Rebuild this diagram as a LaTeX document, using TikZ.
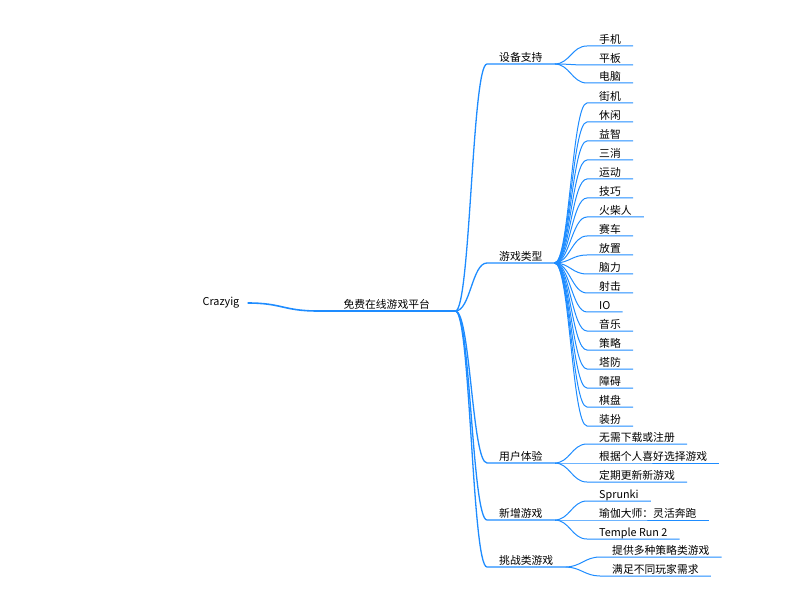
\documentclass[tikz,border=0pt]{standalone}
\usepackage{fontspec}
\setmainfont{Noto Sans CJK SC}
\usetikzlibrary{positioning}
\definecolor{mapblue}{RGB}{30,140,255}

\begin{document}
\begin{tikzpicture}[x=1pt, y=-1pt, every node/.style={font=\fontsize{10.8}{12}\selectfont},
  topic/.style={anchor=south west, inner xsep=12pt, inner ysep=2pt, text height=8pt, text depth=0pt},
  link/.style={draw=mapblue, line width=#1, to path={.. controls ([xshift=15pt]\tikztostart) and ([xshift=-15pt]\tikztotarget) .. (\tikztotarget)}},
  link/.default=1pt]
\useasboundingbox (0,0) rectangle (797,601);
% root and main topic
\node[inner xsep=8pt] (root) at (221,303) {Crazyig};
\node[topic, minimum width=137pt] (main) at (318,311) {免费在线游戏平台};
\draw[link=1.6pt, to path={.. controls ([xshift=35pt]\tikztostart) and ([xshift=-35pt]\tikztotarget) .. (\tikztotarget)}]
  (root.east) to (main.south west) -- (main.south east);
% categories
\node[topic] (dev) at (487,64) {设备支持};
\node[topic] (type) at (487,263) {游戏类型};
\node[topic] (ux) at (487,463) {用户体验};
\node[topic] (new) at (487,520) {新增游戏};
\node[topic] (chal) at (487,567) {挑战类游戏};
\foreach \c in {dev,type,ux,new,chal}
  \draw[link=1.3pt] (main.south east) to (\c.south west) -- (\c.south east);
% devices
\node[topic] (phone) at (587,46) {手机};
\node[topic] (pad) at (587,65) {平板};
\node[topic] (pc) at (587,83) {电脑};
\foreach \l in {phone,pad,pc}
  \draw[link] (dev.south east) to (\l.south west) -- (\l.south east);
% game types
\foreach \t [count=\i from 0] in {街机,休闲,益智,三消,运动,技巧,火柴人,赛车,放置,脑力,射击,IO,音乐,策略,塔防,障碍,棋盘,装扮} {
  \node[topic] (t\i) at (587,103+19*\i) {\t};
  \draw[link] (type.south east) to (t\i.south west) -- (t\i.south east);
}
% user experience
\node[topic] (ux1) at (587,444) {无需下载或注册};
\node[topic] (ux2) at (587,463) {根据个人喜好选择游戏};
\node[topic] (ux3) at (587,482) {定期更新新游戏};
\foreach \l in {ux1,ux2,ux3}
  \draw[link] (ux.south east) to (\l.south west) -- (\l.south east);
% new games
\node[topic] (sprunki) at (587,501) {Sprunki};
\node[topic] (yoga) at (587,520) {瑜伽大师：灵活奔跑};
\node[topic] (temple) at (587,539) {Temple Run 2};
\foreach \l in {sprunki,yoga,temple}
  \draw[link] (new.south east) to (\l.south west) -- (\l.south east);
% challenge games
\node[topic] (ch1) at (600,557) {提供多种策略类游戏};
\node[topic] (ch2) at (600,576) {满足不同玩家需求};
\foreach \l in {ch1,ch2}
  \draw[link] (chal.south east) to (\l.south west) -- (\l.south east);
\end{tikzpicture}
\end{document}
